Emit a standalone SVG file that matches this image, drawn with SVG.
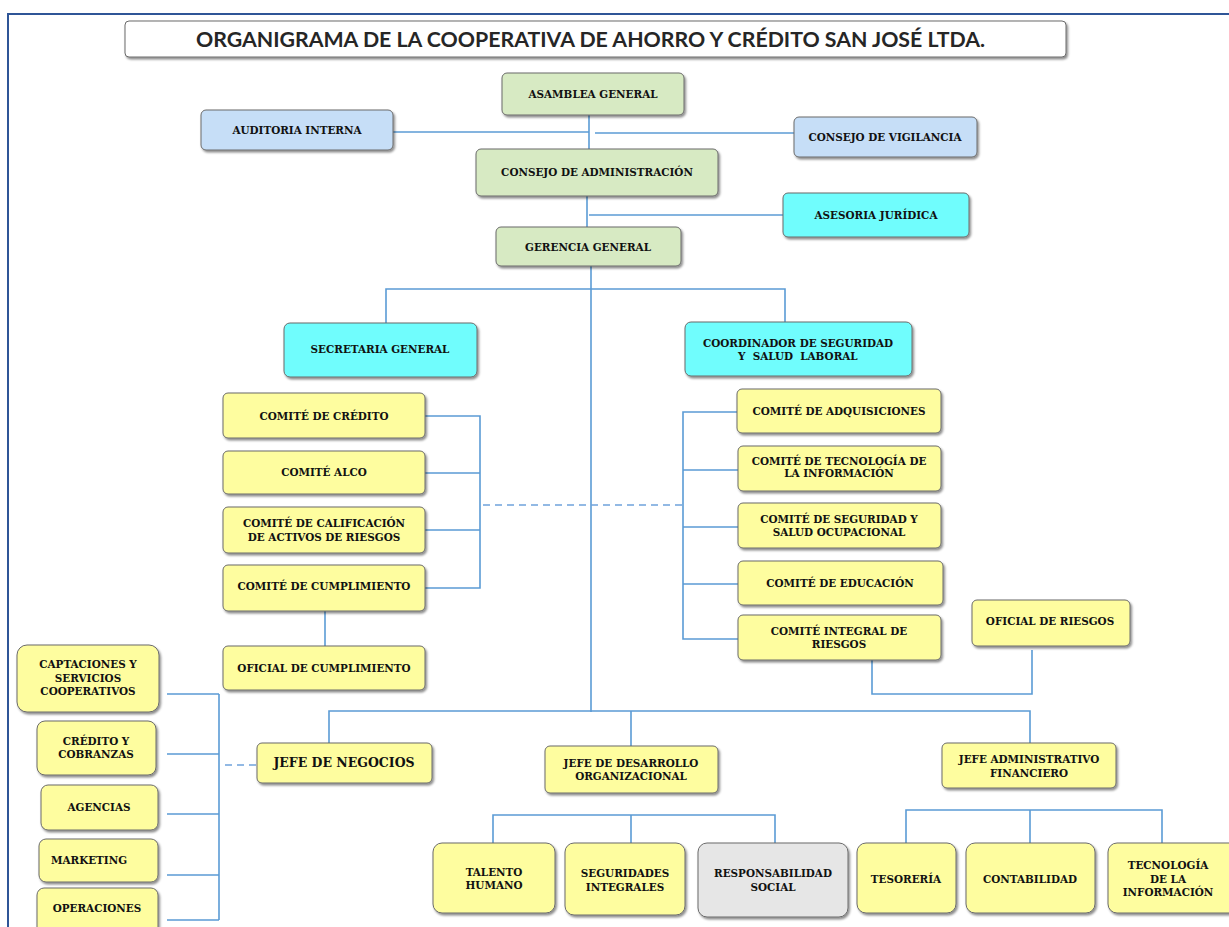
<svg xmlns="http://www.w3.org/2000/svg" width="1229" height="927" viewBox="0 0 1229 927">
<style>
.n{stroke:#6b6b6b;stroke-width:1;filter:url(#sh)}
.g{fill:#d7eac3}.b{fill:#c6def7}.c{fill:#70fdfd}.y{fill:#fefd9f}.gr{fill:#e6e6e6}.w{fill:#ffffff}
.t{font-family:"DejaVu Serif","Liberation Serif",serif;font-weight:bold;font-size:10.4px;fill:#111111;text-anchor:middle}
.ln{fill:none;stroke:#5b9bd5;stroke-width:1.6}
.ds{fill:none;stroke:#6fa3dc;stroke-width:1.6;stroke-dasharray:7 5}
</style>
<defs>
<filter id="sh" x="-10%" y="-20%" width="125%" height="150%">
<feDropShadow dx="1.5" dy="2" stdDeviation="1.1" flood-color="#000" flood-opacity="0.45"/>
</filter>
</defs>
<rect width="1229" height="927" fill="#ffffff"/>
<g id="frame" fill="none" stroke="#2f5597" stroke-width="2">
<path d="M8,927 V14 H1229"/>
</g>
<g id="title">
<rect class="n w" x="125" y="21" width="941" height="36" rx="4" stroke="#8c8c8c"/>
<text x="196" y="47" font-family="Lato,'Open Sans','Liberation Sans',sans-serif" font-weight="bold" font-size="20" fill="#262626" textLength="789" lengthAdjust="spacingAndGlyphs">ORGANIGRAMA DE LA COOPERATIVA DE AHORRO Y CRÉDITO SAN JOSÉ LTDA.</text>
</g>
<g id="connectors">
<path class="ln" d="M589,115 V149"/>
<path class="ln" d="M393,132 H589"/>
<path class="ln" d="M595,133 H794"/>
<path class="ln" d="M587,196 V227"/>
<path class="ln" d="M589,215 H783"/>
<path class="ln" d="M591,266 V712"/>
<path class="ln" d="M386,323 V289 H785 V322"/>
<path class="ln" d="M425,416 H480 V588 H425 M425,473 H480 M425,530 H480"/>
<path class="ln" d="M325,611 V646"/>
<path class="ds" d="M483,505 H683"/>
<path class="ln" d="M737,412 H683 V639 H738 M683,470 H738 M683,527 H738 M683,584 H738"/>
<path class="ln" d="M872,660 V694 H1032 V650"/>
<path class="ln" d="M219,694 V920 M167,694 H219 M167,754 H219 M167,814 H219 M167,875 H219 M167,920 H219"/>
<path class="ds" d="M225,765 H257"/>
<path class="ln" d="M329,743 V711 H1030 V743 M631,711 V746"/>
<path class="ln" d="M493,843 V815 H775 V843 M631,815 V843"/>
<path class="ln" d="M906,843 V810 H1162 V843 M1030,810 V843"/>
</g>
<g id="asamblea"><rect class="n g" x="502" y="73" width="182" height="42" rx="5"/><text class="t" x="593" y="98">ASAMBLEA GENERAL</text></g>
<g id="auditoria"><rect class="n b" x="201" y="110" width="192" height="40" rx="5"/><text class="t" x="297" y="134">AUDITORIA INTERNA</text></g>
<g id="vigilancia"><rect class="n b" x="794" y="117" width="183" height="40" rx="5"/><text class="t" x="885" y="141">CONSEJO DE VIGILANCIA</text></g>
<g id="consejo-admin"><rect class="n g" x="476" y="149" width="242" height="47" rx="5"/><text class="t" x="597" y="176">CONSEJO DE ADMINISTRACIÓN</text></g>
<g id="asesoria"><rect class="n c" x="783" y="193" width="186" height="44" rx="5"/><text class="t" x="876" y="219">ASESORIA JURÍDICA</text></g>
<g id="gerencia"><rect class="n g" x="496" y="227" width="185" height="39" rx="5"/><text class="t" x="588" y="251">GERENCIA GENERAL</text></g>
<g id="secretaria"><rect class="n c" x="284" y="323" width="193" height="54" rx="6"/><text class="t" x="380" y="353">SECRETARIA GENERAL</text></g>
<g id="coordinador"><rect class="n c" x="685" y="322" width="227" height="54" rx="6"/><text class="t" x="798" y="347">COORDINADOR DE SEGURIDAD</text><text class="t" x="796" y="360" xml:space="preserve"> Y  SALUD  LABORAL</text></g>
<g id="comite-credito"><rect class="n y" x="223" y="393" width="202" height="45" rx="5"/><text class="t" x="324" y="420">COMITÉ DE CRÉDITO</text></g>
<g id="comite-alco"><rect class="n y" x="223" y="451" width="202" height="43" rx="5"/><text class="t" x="324" y="476">COMITÉ ALCO</text></g>
<g id="comite-calificacion"><rect class="n y" x="223" y="507" width="202" height="46" rx="5"/><text class="t" x="324" y="527">COMITÉ DE CALIFICACIÓN</text><text class="t" x="324" y="541">DE ACTIVOS DE RIESGOS</text></g>
<g id="comite-cumplimiento"><rect class="n y" x="223" y="565" width="202" height="46" rx="5"/><text class="t" x="324" y="590">COMITÉ DE CUMPLIMIENTO</text></g>
<g id="oficial-cumplimiento"><rect class="n y" x="223" y="646" width="202" height="44" rx="5"/><text class="t" x="324" y="672">OFICIAL DE CUMPLIMIENTO</text></g>
<g id="comite-adquisiciones"><rect class="n y" x="737" y="389" width="204" height="44" rx="5"/><text class="t" x="839" y="415">COMITÉ DE ADQUISICIONES</text></g>
<g id="comite-tecnologia"><rect class="n y" x="738" y="446" width="203" height="45" rx="5"/><text class="t" x="839" y="465">COMITÉ DE TECNOLOGÍA DE</text><text class="t" x="839" y="477">LA INFORMACIÓN</text></g>
<g id="comite-seguridad"><rect class="n y" x="738" y="503" width="203" height="45" rx="5"/><text class="t" x="839" y="523">COMITÉ DE SEGURIDAD Y</text><text class="t" x="839" y="536">SALUD OCUPACIONAL</text></g>
<g id="comite-educacion"><rect class="n y" x="738" y="561" width="205" height="44" rx="5"/><text class="t" x="840" y="587">COMITÉ DE EDUCACIÓN</text></g>
<g id="comite-integral"><rect class="n y" x="738" y="615" width="203" height="45" rx="5"/><text class="t" x="839" y="635">COMITÉ INTEGRAL DE</text><text class="t" x="839" y="648">RIESGOS</text></g>
<g id="oficial-riesgos"><rect class="n y" x="972" y="600" width="158" height="46" rx="5"/><text class="t" x="1050" y="625">OFICIAL DE RIESGOS</text></g>
<g id="captaciones"><rect class="n y" x="17" y="645" width="142" height="67" rx="10"/><text class="t" x="88" y="668">CAPTACIONES Y</text><text class="t" x="88" y="682">SERVICIOS</text><text class="t" x="88" y="695">COOPERATIVOS</text></g>
<g id="credito-cobranzas"><rect class="n y" x="37" y="721" width="119" height="54" rx="8"/><text class="t" x="96" y="745">CRÉDITO Y</text><text class="t" x="96" y="758">COBRANZAS</text></g>
<g id="agencias"><rect class="n y" x="41" y="785" width="117" height="45" rx="7"/><text class="t" x="99" y="811">AGENCIAS</text></g>
<g id="marketing"><rect class="n y" x="39" y="839" width="119" height="43" rx="7"/><text class="t" x="89" y="864">MARKETING</text></g>
<g id="operaciones"><rect class="n y" x="37" y="888" width="121" height="46" rx="7"/><text class="t" x="97" y="912">OPERACIONES</text></g>
<g id="jefe-negocios"><rect class="n y" x="257" y="743" width="175" height="40" rx="5"/><text class="t" x="344" y="767" style="font-size:12.5px">JEFE DE NEGOCIOS</text></g>
<g id="jefe-desarrollo"><rect class="n y" x="545" y="746" width="173" height="47" rx="5"/><text class="t" x="631" y="767">JEFE DE DESARROLLO</text><text class="t" x="631" y="780">ORGANIZACIONAL</text></g>
<g id="jefe-admin"><rect class="n y" x="942" y="743" width="174" height="45" rx="5"/><text class="t" x="1029" y="763">JEFE ADMINISTRATIVO</text><text class="t" x="1029" y="777">FINANCIERO</text></g>
<g id="talento"><rect class="n y" x="433" y="843" width="122" height="70" rx="9"/><text class="t" x="494" y="876">TALENTO</text><text class="t" x="494" y="889">HUMANO</text></g>
<g id="seguridades"><rect class="n y" x="565" y="843" width="120" height="72" rx="9"/><text class="t" x="625" y="877">SEGURIDADES</text><text class="t" x="625" y="891">INTEGRALES</text></g>
<g id="responsabilidad"><rect class="n gr" x="698" y="843" width="150" height="74" rx="9"/><text class="t" x="773" y="877">RESPONSABILIDAD</text><text class="t" x="773" y="891">SOCIAL</text></g>
<g id="tesoreria"><rect class="n y" x="857" y="843" width="99" height="70" rx="9"/><text class="t" x="906" y="883">TESORERÍA</text></g>
<g id="contabilidad"><rect class="n y" x="966" y="843" width="129" height="70" rx="9"/><text class="t" x="1030" y="883">CONTABILIDAD</text></g>
<g id="tecnologia-info"><rect class="n y" x="1108" y="843" width="130" height="70" rx="9"/><text class="t" x="1168" y="869">TECNOLOGÍA</text><text class="t" x="1168" y="883">DE LA</text><text class="t" x="1168" y="896">INFORMACIÓN</text></g>
</svg>
